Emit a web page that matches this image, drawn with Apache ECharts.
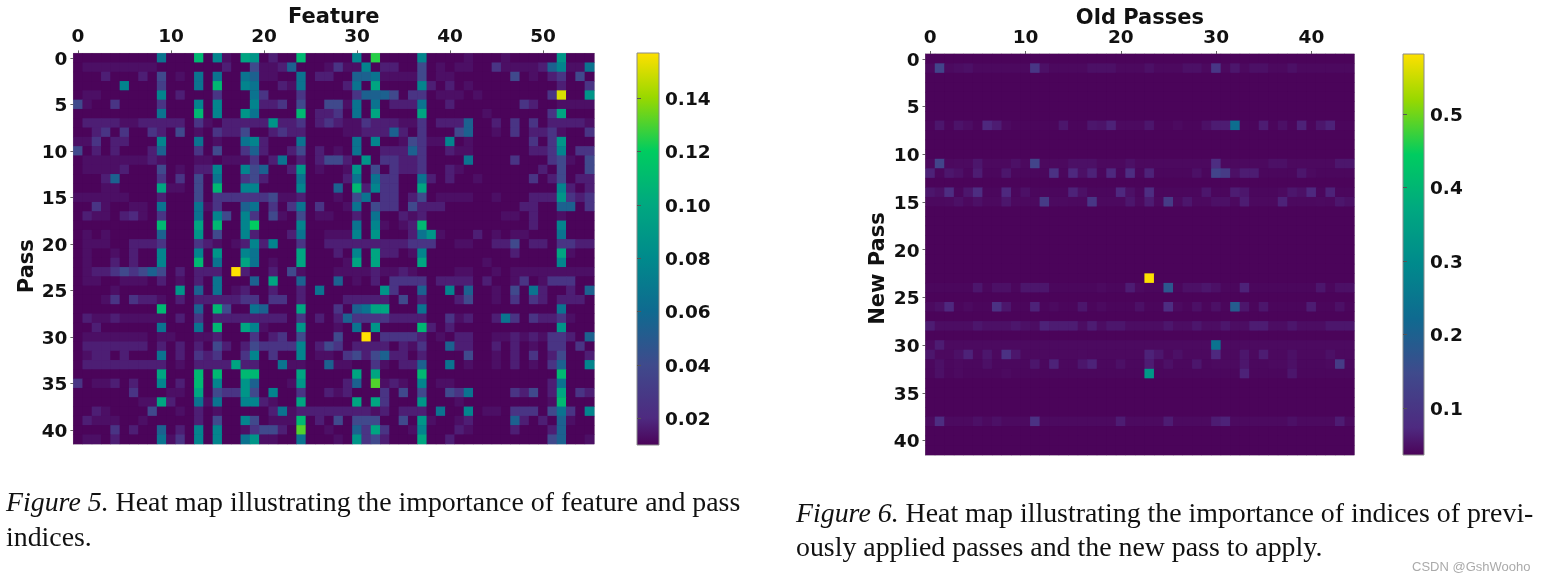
<!DOCTYPE html>
<html><head><meta charset="utf-8">
<style>html,body{margin:0;padding:0;background:#fff}#c{width:1544px;height:582px;filter:blur(0.45px)}</style>
<script src="https://cdn.jsdelivr.net/npm/echarts@6/dist/echarts.min.js"></script>
</head><body><div id="c"></div>
<script>
// importance in hundredths, per row: column,value pairs. Unlisted cells sit at the background value.
const featureBackground = 1.1;
const faintReadings = {2:1.6,3:2.3,3.5:2.8,4:3.4,4.5:4,5:4.6};
const featureRows = [
/*0*/[9,7,13,11,15,8,16,2,18,10,19,9,21,3,24,11,30,8,32,12.5,37,8,42,2,46,2,52,9],
/*1*/[1,2,2,2,3,2,4,2,5,2,6,2,7,2,8,2,16,3,19,5,20,2,21,2,22,3,23,6,27,2,28,4,29,2,30,2,31,8,33,3,34,3,37,5,39,2,41,2,42,2,45,4,46,2,47,2,48,2,49,2,50,3,51,6,52,8,53,2,54,2,55,7],
/*2*/[3,3,7,3,9,5,11,2,13,7,15,7,18,7,19,6,20,2,21,2,24,7,26,3,27,3,30,6,31,6,32,7,33,2,34,2,35,2,36,2,37,5,39,2,40,2,47,5,49,2,51,3,52,4,54,5],
/*3*/[5,8,9,4.5,13,7,15,11,18,8,19,7,22,3,23,2,24,7,29,3,30,7,32,10,37,8,38,3,40,3,42,2,52,3,55,4],
/*4*/[1,2,2,2,9,8,11,3,15,4,19,7,20,4,24,4,30,4,31,6,32,6,33,6,34,5,36,4,37,4,39,2,40,2,41,2,43,2,51,4,52,15,55,9],
/*5*/[0,5,1,2,4,4,9,4,13,8,15,8,19,8,20,3,21,3,22,4,24,5,27,5,28,5,29,2,30,7,32,7,34,3,35,3,36,3,37,7,40,3,48,4,49,3,52,2,53,2,54,2,55,2],
/*6*/[9,7,13,11,15,8,18,9,19,7,24,11,26,3,27,3,28,4,30,7,32,10,37,10,44,2,51,4,52,10],
/*7*/[1,3,2,3,3,3,4,3,5,2,6,2,7,3,8,3,9,3,10,3,11,3,13,4,14,2,16,3,17,3,18,3,19,3,20,3,21,9,22,3,23,3,24,4,26,3,27,4,28,3,29,2,30,2,31,4,32,3,33,3,34,3,35,2,36,2,37,4,39,3,40,3,41,3,42,6,45,3,47,4,49,4,51,3,52,3,53,3,54,3,55,2],
/*8*/[2,3,3,4,5,4,8,4,9,3,11,5,13,2,15,4,16,3,17,3,18,5,21,3,22,4,23,3,24,3,29,2,30,2,31,3,32,3,33,3,34,6,35,3,37,4,41,5,42,6,45,2,47,4,49,3,50,3,51,4,52,2,55,4],
/*9*/[0,2,1,2,2,4,4,3,5,3,9,8,13,7,15,2,18,7,19,8,20,3,24,7,30,7,32,8,35,2,36,5,37,4,38,2,39,2,40,8,42,2,49,4,51,4,52,9],
/*10*/[0,5,2,3,4,3,8,3,9,6,13,4,15,5,18,4,19,6,20,3,23,3,24,5,26,3,28,2,30,7,33,3,34,3,35,3,36,6,37,4,40,3,41,2,42,2,49,3,50,3,51,4,52,8,54,4,55,4],
/*11*/[1,2,2,2,3,2,4,2,5,2,6,2,7,2,8,3,9,2,13,2,14,2,16,2,17,2,18,2,19,4,21,3,22,7,24,3,26,3,27,5,28,5,29,3,31,9,33,4,34,4,35,3,36,3,37,4,42,7,47,4,51,4,52,5,53,2,55,5],
/*12*/[1,2,2,2,3,2,4,2,5,3,9,5,11,2,13,3,14,3,15,8,18,8,19,5,20,6,23,3,24,9,26,2,29,2,30,9,32,5,34,4,35,3,36,3,37,4,40,3,41,2,50,3,52,5,55,5],
/*13*/[3,3,4,6,9,4,11,4,13,5,15,7,18,4,19,5,20,3,24,7,29,3,30,7,32,7,33,4,34,4,37,7,38,3,40,3,43,2,49,4,51,3,52,5,54,3,55,3],
/*14*/[3,2,4,2,9,10,10,2,11,2,13,5,15,11,18,8,19,8,24,8,28,6,30,11,31,3,32,8,33,4,34,4,37,10,52,8,53,3,55,3],
/*15*/[0,2,1,2,2,2,3,2,4,2,5,2,9,3,13,5,15,4,16,4,17,4,18,4,19,4,20,4,21,5,22,2,23,2,24,3,28,2,30,5,31,7,33,4,34,4,36,3,37,5,39,2,40,2,41,2,42,2,45,2,49,3,50,3,51,3,52,9,53,4,54,3,55,4],
/*16*/[2,4,3,2,6,2,7,2,9,7,13,7,14,2,15,4,18,6,19,7,21,4,23,4,24,7,26,4,29,2,30,7,32,5,33,4,34,4,36,5,37,3,38,3,39,3,48,3,49,3,52,6,53,6,55,4],
/*17*/[1,3,2,2,3,2,5,3,6,3.5,7,2,9,4,13,7,15,8,16,5,18,8,19,4,21,5,22,2,24,5,26,2,27,2,30,3,32,7,35,3,36,2,37,3,46,2,47,2,49,3,52,2],
/*18*/[9,11,13,10,15,11,18,8,19,12,24,8,30,7,32,8,33,2,35,2,36,3,37,11,49,3,52,8],
/*19*/[1,2,3,2,9,6,13,9,15,5,18,8,19,3,23,3,24,7,27,2,28,2,29,2,30,8,32,9,36,3,37,7,38,9,39,2,43,3,45,2,47,2,48,2,52,7],
/*20*/[1,2,2,2,3,2,6,3,7,3,8,3,9,4,13,4,14,3,15,2,17,2,18,3,19,8,20,3,21,8,24,4,27,3,28,3,29,3,30,3,31,3,32,3,33,3,34,3,35,3,36,4,37,4,38,4,41,2,42,2,45,3,46,3,47,5,49,3,50,3,52,4,53,4,54,3,55,3],
/*21*/[1,2,4,2,6,3,9,8,13,8,15,9,18,8,19,7,24,10,28,3,30,8,32,10,33,3,34,3,36,2,37,8,47,3,52,10,53,2],
/*22*/[1,2,4,3,6,3,9,8,13,11,15,7,18,10,19,7,21,2,24,10,29,2,30,10,32,10,37,10,44,2,52,8],
/*23*/[1,2,2,3,3,3,4,4,5,5,6,4,7,5,8,6,9,5,11,3,13,3,14,3,15,3,17,15.7,18,3,21,3,23,5,24,2,28,2,29,2,30,2,31,2,32,3,33,2,34,2,35,3,36,2,41,2,42,2,45,2,47,2,48,2,49,2,50,2,51,2,52,2,53,2,54,2,55,2],
/*24*/[1,2,2,2,5,2,6,2,7,2,9,3,11,2,13,3,15,7,19,6,21,10,24,6,28,6,30,2,32,3,34,4,35,4,36,4,37,4,39,3,40,3,41,3,42,3,44,3,47,2,48,4,50,2,51,4,52,4,53,4],
/*25*/[4,2,11,9,13,6,15,7,17,2,18,3,21,3,24,3,26,7,33,9,34,4,37,6,40,8,42,6,45,2,47,5,49,7,50,3,53,3,55,6],
/*26*/[3,2,4,4,6,4,7,3,8,3,9,2,11,3,13,3,14,3,15,3,16,3,17,3,18,4,19,4,21,4,22,4,24,3,29,3,30,3,31,3,32,3,33,3,35,5,37,3,41,3,42,5,45,2,47,4,49,4,50,3,52,3,53,3,54,3],
/*27*/[9,11,13,6,15,11,16,5,19,7,20,6,24,10,28,4,30,6,31,7,32,10,33,10,37,7,52,7],
/*28*/[1,3,2,2,3,2,4,3,5,2,6,2,7,2,8,2,9,2,11,3,13,4,15,3,16,3,17,3,18,3,19,3,20,3,21,3,22,3,24,4,26,3,28,3,29,6,30,4,31,4,32,4,33,4,34,3,35,3,36,3,37,3,40,4,41,2,42,3,45,3,46,7,47,4,49,4,50,3,51,3,52,4,53,2],
/*29*/[2,3,9,7,13,7,15,11,18,10,19,8,20,2,24,9,28,2,30,7,32,9,37,11,38,3,40,3,52,9],
/*30*/[1,2,2,2,3,2,4,2,5,2,6,2,7,2,9,2,10,2,13,2,14,2,15,3,19,4,21,3,22,4,24,5,28,5,31,15.7,33,4,34,4,35,4,36,4,37,3,39,2,41,3,42,3,45,2,46,2,47,3,48,2,49,3,50,2,51,4,52,4,53,3,55,6],
/*31*/[1,3,2,3,3,3,4,3,5,3,6,3,7,3,9,3,11,3,13,3,15,5,16,3,18,3,19,5,20,4,21,4,22,4,23,4,24,8,26,3,27,5,28,4,30,3,31,3,32,3,33,3,35,3,36,2,37,4,40,6,41,3,42,3,45,3,47,3,49,2,51,4,52,4,54,4],
/*32*/[1,2,2,3,3,3,5,3,9,7,11,3,13,4,14,3,15,4,18,4,19,8,21,4,24,8,26,2,27,2,29,4,30,5,31,3,32,5,33,6,34,3,35,3,37,3,42,5,45,2,47,3,49,4,51,3,52,5,55,3],
/*33*/[1,3,2,3,3,3,4,3,5,3,6,3,7,3,8,3,9,3,11,2,13,3,14,3,15,3,16,3,17,10,18,3,19,3,22,7,23,2,24,2,27,6,28,2,29,2,32,4,33,2,35,3,36,3,37,6,40,7,42,2,45,2,47,3,49,2,51,4,52,6,55,8],
/*34*/[9,10,13,11,15,11,18,11,19,11,24,10,30,10,32,10,37,11,52,11],
/*35*/[0,4,2,2,3,2,4,3,6,3,9,8,11,3,13,11,15,8,18,9,19,6,23,2,24,9,29,3,30,6,32,13,33,2,34,3,35,2,37,8,39,2,40,2,51,3,52,7],
/*36*/[6,4,10,2,11,2,13,10,15,5,16,4,17,4,18,9,19,5,21,8,24,4,27,3,28,2,29,3,33,4,35,5,37,5,40,5,41,4,42,7,47,4,48,3,49,5,51,3,52,10,54,4,55,3],
/*37*/[7,2,8,2,9,10,10,3,13,7,14,2,15,7,18,8,19,8,20,3,21,2,24,10,30,10,32,10,33,4,37,9,41,2,51,2,52,11],
/*38*/[2,3,3,2,8,5,11,2,13,3,15,2,21,3,22,7,23,2,24,3,25,3,26,3,27,3,28,3,29,3,30,3,31,3,32,2,33,3,35,3,36,3,37,3,39,7,42,8,44,2,45,2,47,4,48,4,49,4,51,5,52,7,53,4,55,8],
/*39*/[1,3,2,2,3,2,4,2,7,2,13,3,15,5,18,8,19,5,21,2,22,2,23,2,24,11,26,3,28,5,30,5,31,5,32,5,35,5,37,9,38,2,41,2,42,3,47,6,48,3,50,3,52,6,53,2],
/*40*/[4,4,6,3,9,6,11,3,13,8,15,8,18,2,19,4,20,5,21,5,22,3,24,13,27,2,30,6,31,4,32,10,33,4,36,2,37,8,41,3,42,2,47,3,51,3,52,6],
/*41*/[1,2,2,2,4,3,9,7,10,2,11,4,13,8,15,8,18,7,19,9,20,2,21,2,24,7,28,2,30,9,31,4,32,5,33,3,37,10,40,3,51,5,52,6,55,2]
];

// right chart: row, tint of that row, then column,value pairs. Everything else is the background value.
const oldPassBackground = 0.04;
const oldPassRows = [
[1,0.048,[1,.16,2,.05,3,.055,4,.06,11,.13,12,.06,17,.06,18,.06,19,.06,23,.06,27,.06,28,.06,30,.13,32,.07,34,.06,35,.06,38,.06]],
[7,0.043,[1,.07,3,.065,4,.055,6,.1,7,.08,8,.05,14,.07,17,.07,18,.065,19,.09,20,.05,21,.05,22,.05,23,.07,26,.05,29,.06,30,.08,31,.08,32,.25,35,.08,37,.06,39,.09,41,.07,42,.09]],
[11,0.048,[1,.16,3,.05,4,.05,5,.07,9,.06,11,.16,15,.06,16,.06,17,.06,21,.06,30,.11,36,.06,37,.06,43,.07,44,.07]],
[12,0.045,[0,.09,2,.07,3,.06,5,.08,8,.07,13,.12,15,.1,16,.06,17,.09,19,.1,21,.11,23,.09,28,.06,30,.16,31,.14,32,.06,33,.08,34,.08,39,.07,40,.05]],
[14,0.045,[0,.07,1,.06,2,.11,4,.07,5,.11,8,.1,10,.06,15,.09,16,.06,20,.1,21,.06,23,.11,29,.07,32,.08,33,.07,37,.05,38,.07,39,.06,40,.1,42,.09]],
[15,0.048,[2,.05,3,.06,5,.06,8,.07,12,.14,13,.05,14,.05,17,.13,21,.07,23,.08,25,.14,26,.05,27,.07,30,.06,31,.06,33,.08,37,.09,41,.05,43,.07,44,.06]],
[23,0.04,[23,.58]],
[24,0.045,[5,.07,7,.06,8,.06,10,.07,11,.07,12,.07,18,.05,21,.08,22,.05,25,.2,27,.06,28,.06,29,.07,30,.06,33,.09,41,.07,43,.06,44,.06]],
[26,0.043,[0,.05,1,.06,2,.1,4,.05,7,.12,8,.07,11,.09,13,.05,16,.07,18,.05,22,.06,25,.11,26,.05,28,.06,30,.06,32,.21,33,.07,35,.07,40,.08,43,.06]],
[28,0.055,[0,.08,5,.07,6,.06,7,.06,8,.06,9,.07,10,.06,12,.09,13,.08,14,.08,15,.08,17,.08,19,.07,20,.07,25,.07,28,.07,31,.07,34,.08,35,.08,38,.07,42,.07,43,.07,44,.07]],
[30,0.05,[1,.08,30,.26]],
[31,0.048,[0,.07,3,.06,4,.09,6,.07,8,.12,9,.07,16,.05,23,.09,24,.07,26,.06,30,.1,33,.07,35,.08,38,.06,42,.06]],
[32,0.046,[1,.06,3,.05,6,.06,11,.07,13,.09,16,.07,17,.09,20,.06,23,.08,25,.06,28,.07,30,.05,31,.05,32,.05,33,.07,36,.05,37,.05,38,.06,42,.05,43,.14]],
[33,0.045,[1,.06,3,.05,8,.05,23,.34,33,.09,38,.07]],
[38,0.05,[1,.11,5,.06,7,.06,11,.12,20,.08,25,.08,30,.08,31,.09,38,.06,43,.08]]
];

const featureCount = 56, oldPassCount = 45, passCount = 42;
const featureTicks = Array.from({length:featureCount},(_,i)=>String(i));
const oldPassTicks = Array.from({length:oldPassCount},(_,i)=>String(i));
const passTicks = Array.from({length:passCount},(_,i)=>String(i));
const barTicksLeft = [0.02,0.04,0.06,0.08,0.10,0.12,0.14];
const barTicksRight = [0.1,0.2,0.3,0.4,0.5];
const rangeLeft = [0.0099,0.157], rangeRight = [0.036,0.582];
const caption5 = ['{i|Figure 5.} Heat map illustrating the importance of feature and pass','indices.'];
const caption6 = ['{i|Figure 6.} Heat map illustrating the importance of indices of previ-','ously applied passes and the new pass to apply.'];
const palette = ['#4b0258','#4e2a80','#3f4a8c','#0f6a90','#008a8c','#00a880','#00cc60','#98d800','#ffe000'];
const palettePositions = [0,.069,.205,.341,.477,.613,.749,.885,1];

function expandLeft(){
  const out=[];
  for(let y=0;y<passCount;y++){
    const m=new Array(featureCount).fill(featureBackground);
    const r=featureRows[y];
    for(let i=0;i<r.length;i+=2) m[r[i]]=r[i+1];
    m.forEach((v,x)=>out.push([x,y,(faintReadings[v]||v)/100]));
  }
  return out;
}
function expandRight(){
  const out=[];
  for(let y=0;y<passCount;y++){
    const m=new Array(oldPassCount).fill(oldPassBackground);
    const e=oldPassRows.find(r=>r[0]===y);
    if(e){ m.fill(e[1]); for(let i=0;i<e[2].length;i+=2) m[e[2][i]]=e[2][i+1]; }
    m.forEach((v,x)=>out.push([x,y,v]));
  }
  return out;
}
const tickFont={fontFamily:'DejaVu Sans',fontWeight:'bold',fontSize:18.5,color:'#111'};
const nameFont={fontFamily:'DejaVu Sans',fontWeight:'bold',fontSize:21,color:'#111'};
const spine={show:true,lineStyle:{color:'#9a9a9a',width:1}};
const loweredRich={a:Object.assign({padding:[4,0,0,0]},tickFont)};
function catX(idx,data,name){return {type:'category',gridIndex:idx,position:'top',data,name,nameLocation:'middle',nameGap:25,nameMoveOverlap:false,nameTextStyle:nameFont,
  axisLine:spine,axisTick:{show:true,alignWithLabel:true,interval:9,length:3,lineStyle:{color:'#666'}},axisLabel:Object.assign({interval:9,margin:6.5},tickFont),splitLine:{show:false},splitArea:{show:false}};}
function catY(idx,data,name,gap,shift){return {type:'category',gridIndex:idx,inverse:true,data,name,nameLocation:'middle',nameGap:gap,nameTextStyle:Object.assign({padding:[0,shift,0,0]},nameFont),
  axisLine:spine,axisTick:{show:true,alignWithLabel:true,interval:4,length:3,lineStyle:{color:'#666'}},axisLabel:{interval:4,margin:6,formatter:v=>'{a|'+v+'}',rich:loweredRich},splitLine:{show:false},splitArea:{show:false}};}
function barY(idx,range,ticks,digits){return {type:'value',gridIndex:idx,position:'right',min:range[0],max:range[1],
  axisLine:{show:false},splitLine:{show:false},
  axisTick:{show:true,length:4,customValues:ticks,lineStyle:{color:'#555'}},
  axisLabel:{margin:6,customValues:ticks,formatter:v=>'{a|'+v.toFixed(digits)+'}',rich:loweredRich}};}
function barX(idx){return {type:'value',gridIndex:idx,show:false,min:0,max:1};}
function vm(seriesIndex,range){
  return {type:'continuous',show:false,seriesIndex,min:range[0],max:range[1],inRange:{color:palette}};
}
const barGradient=()=>new echarts.graphic.LinearGradient(0,1,0,0,palette.map((c,i)=>({offset:palettePositions[i],color:c})));
function captionBlock(lines,x,y,lh){
  return lines.map((t,i)=>({type:'text',left:x,top:y+i*lh,silent:true,style:{text:t,fontFamily:'Liberation Serif',fontSize:27.85,fill:'#111',
    rich:{i:{fontFamily:'Liberation Serif',fontStyle:'italic',fontSize:27.85,fill:'#111'}}}}));
}
const chart=echarts.init(document.getElementById('c'),null,{renderer:'canvas'});
chart.setOption({
  animation:false,backgroundColor:'#fff',
  grid:[
    {left:73.4,top:53.4,width:520.8,height:390.6,outerBoundsMode:'none',show:true,backgroundColor:palette[0],borderColor:'#c4c4c4',borderWidth:1},
    {left:925.5,top:54,width:428.8,height:401,outerBoundsMode:'none',show:true,backgroundColor:palette[0],borderColor:'#c4c4c4',borderWidth:1},
    {left:637,top:53,width:22,height:392,outerBoundsMode:'none',show:true,backgroundColor:barGradient(),borderColor:'#8a8a8a',borderWidth:1},
    {left:1403,top:54,width:21,height:401,outerBoundsMode:'none',show:true,backgroundColor:barGradient(),borderColor:'#8a8a8a',borderWidth:1}
  ],
  xAxis:[catX(0,featureTicks,'Feature'),catX(1,oldPassTicks,'Old Passes'),barX(2),barX(3)],
  yAxis:[catY(0,passTicks,'Pass',34,35),catY(1,passTicks,'New Pass',36,28),barY(2,rangeLeft,barTicksLeft,2),barY(3,rangeRight,barTicksRight,1)],
  visualMap:[vm(0,rangeLeft),vm(1,rangeRight)],
  series:[
    {type:'heatmap',xAxisIndex:0,yAxisIndex:0,data:expandLeft(),progressive:0,emphasis:{disabled:true}},
    {type:'heatmap',xAxisIndex:1,yAxisIndex:1,data:expandRight(),progressive:0,emphasis:{disabled:true}}
  ],
  graphic:[
    ...captionBlock(caption5,6,490,35),
    ...captionBlock(caption6,796,501,34),
    {type:'text',left:1412,top:561,silent:true,style:{text:'CSDN @GshWooho',fontFamily:'Liberation Sans',fontSize:13,fill:'#aaa'}}
  ]
});
</script></body></html>
